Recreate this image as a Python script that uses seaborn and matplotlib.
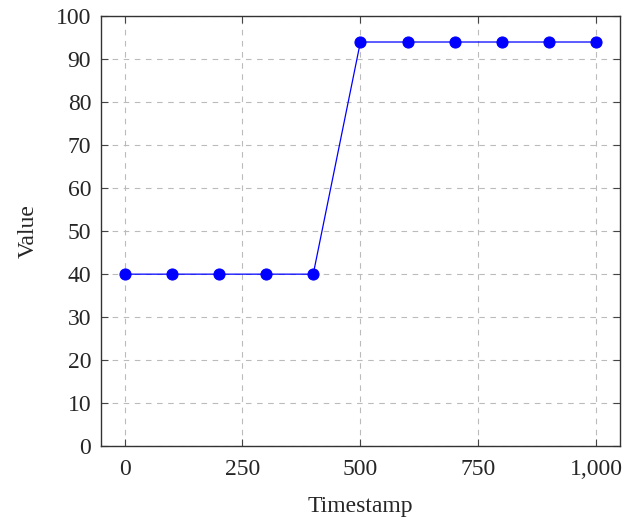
import matplotlib
matplotlib.use('Agg')
import matplotlib.pyplot as plt
import matplotlib.ticker as mticker
import seaborn as sns
import pandas as pd

timestamps = [0, 100, 200, 300, 400, 500, 600, 700, 800, 900, 1000]
values = [40, 40, 40, 40, 40, 94, 94, 94, 94, 94, 94]
x_ticks = [0, 250, 500, 750, 1000]
y_ticks = list(range(0, 101, 10))

sns.set_style("ticks")
plt.rcParams['font.family'] = ['Liberation Serif', 'DejaVu Serif']
plt.rcParams['font.size'] = 17

df = pd.DataFrame({'Timestamp': timestamps, 'Value': values})

fig = plt.figure(figsize=(6.39, 5.23), dpi=100)
ax = fig.add_axes([0.158, 0.147, 0.812, 0.822])

sns.lineplot(data=df, x='Timestamp', y='Value', ax=ax, color='blue',
             linewidth=0.9, marker='o', markersize=8, markeredgecolor='blue')

ax.set_xlim(-50, 1050)
ax.set_ylim(0, 100)
ax.set_xticks(x_ticks)
ax.set_yticks(y_ticks)
ax.xaxis.set_major_formatter(mticker.FuncFormatter(lambda v, p: f'{int(v):,}'))
ax.grid(True, color='#bbbbbb', linestyle=(0, (5, 5)), linewidth=0.8)
ax.tick_params(direction='in', length=5, top=True, right=True, width=0.8,
               color='#444444')
ax.tick_params(axis='x', pad=9)
ax.tick_params(axis='y', pad=7)
for s in ax.spines.values():
    s.set_linewidth(1.0)
    s.set_color('#333333')
ax.set_xlabel('Timestamp', labelpad=12)
ax.set_ylabel('Value', labelpad=12)

fig.savefig('out.png', dpi=100)
plt.close()
